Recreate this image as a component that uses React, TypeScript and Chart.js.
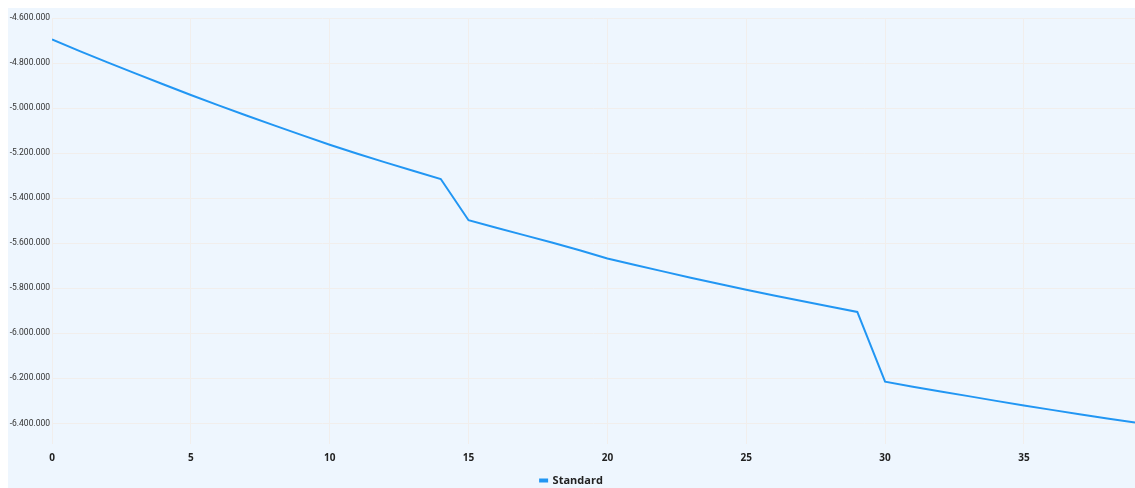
import React, { useEffect, useRef } from "react";
import { Chart, registerables } from "chart.js";

Chart.register(...registerables);

const xValues: number[] = [
  0, 1, 2, 3, 4, 5, 6, 7, 8, 9, 10, 11, 12, 13, 14, 15, 16, 17, 18, 19,
  20, 21, 22, 23, 24, 25, 26, 27, 28, 29, 30, 31, 32, 33, 34, 35, 36, 37, 38, 39,
];

const standardValues: number[] = [
  -4695000, -4747000, -4797000, -4846000, -4894000, -4942000, -4988000, -5033000,
  -5077000, -5120000, -5163000, -5203000, -5241000, -5278000, -5315000, -5498000,
  -5531000, -5564000, -5597000, -5631000, -5668000, -5697000, -5725000, -5753000,
  -5780000, -5807000, -5832000, -5857000, -5881000, -5905000, -6215000, -6237000,
  -6258000, -6279000, -6300000, -6321000, -6340000, -6359000, -6378000, -6396000,
];

const yTickValues: number[] = [
  -4600000, -4800000, -5000000, -5200000, -5400000, -5600000, -5800000, -6000000,
  -6200000, -6400000,
];
const xTickValues: number[] = [0, 5, 10, 15, 20, 25, 30, 35];

const seriesName = "Standard";
const yMin = -6456000;
const yMax = -4600000;
const xMin = 0;
const xMax = 39;

const formatDe = (v: number): string => {
  const neg = v < 0;
  const s = Math.round(Math.abs(v)).toString().replace(/\B(?=(\d{3})+(?!\d))/g, ".");
  return (neg ? "-" : "") + s;
};

export default function App() {
  const ref = useRef<HTMLCanvasElement | null>(null);

  useEffect(() => {
    if (!ref.current) return;
    const blue = "#2196f3";
    const grid = "#f1eeec";
    const chart = new Chart(ref.current, {
      type: "line",
      data: {
        datasets: [
          {
            label: seriesName,
            data: xValues.map((x, i) => ({ x, y: standardValues[i] })),
            borderColor: blue,
            backgroundColor: blue,
            borderWidth: 2,
            pointRadius: 0,
            tension: 0,
          },
        ],
      },
      options: {
        animation: false,
        responsive: false,
        maintainAspectRatio: false,
        layout: { padding: { top: 10, right: 0, left: 0, bottom: -8 } },
        scales: {
          x: {
            type: "linear",
            min: xMin,
            max: xMax,
            border: { display: false },
            grid: { color: grid, drawTicks: true, tickLength: 8, tickColor: grid },
            afterBuildTicks: (scale: any) => {
              scale.ticks = xTickValues.map((v) => ({ value: v }));
            },
            ticks: {
              padding: 8,
              maxRotation: 0,
              autoSkip: false,
              color: "#222",
              font: { family: "'Open Sans', 'Noto Sans', sans-serif", size: 10, weight: "bold" },
            },
            afterFit: (scale: any) => {
              scale.height = 34;
            },
          },
          y: {
            type: "linear",
            min: yMin,
            max: yMax,
            border: { display: false },
            grid: { color: grid, drawTicks: false },
            afterBuildTicks: (scale: any) => {
              scale.ticks = yTickValues.map((v) => ({ value: v }));
            },
            ticks: {
              padding: 2,
              autoSkip: false,
              color: "#333",
              font: { family: "Roboto, 'Noto Sans', sans-serif", size: 8.5 },
              callback: (v: any) => formatDe(Number(v)),
            },
            afterFit: (scale: any) => {
              scale.width = 44;
            },
          },
        },
        plugins: {
          legend: {
            position: "bottom",
            labels: {
              boxWidth: 7,
              boxHeight: 2,
              padding: 5,
              color: "#222",
              font: { family: "'Open Sans', 'Noto Sans', sans-serif", size: 11, weight: "bold" },
            },
          },
          tooltip: { enabled: false },
        },
      } as any,
    });
    return () => chart.destroy();
  }, []);

  return (
    <div
      style={{
        position: "absolute",
        left: 8,
        top: 8,
        width: 1127,
        height: 480,
        background: "#eef6fe",
      }}
    >
      <canvas ref={ref} width={1127} height={480} style={{ display: "block", width: 1127, height: 480 }} />
    </div>
  );
}
